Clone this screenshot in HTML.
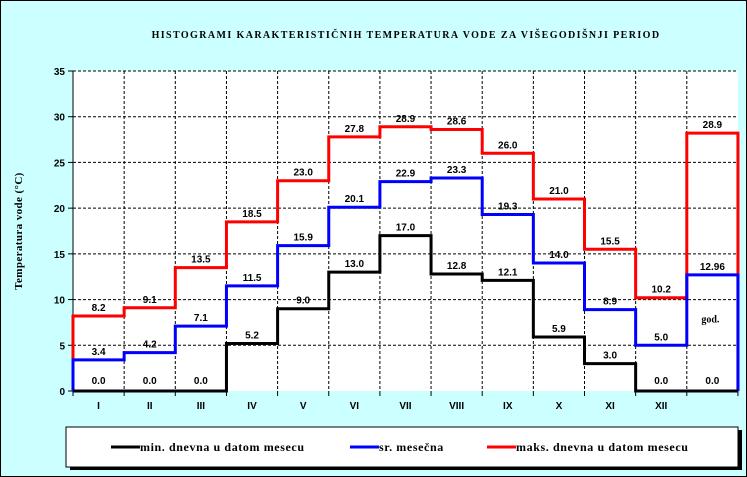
<!DOCTYPE html>
<html><head><meta charset="utf-8"><style>
body{margin:0;background:#fff}
svg{display:block}
.t{font-family:"Liberation Sans",sans-serif;font-weight:bold;font-size:10px;fill:#000}
.s{font-family:"Liberation Serif",serif;font-weight:bold;fill:#000}
</style></head><body>
<svg id="c" width="747" height="477" viewBox="0 0 747 477">
<rect x="0.5" y="0.5" width="746" height="476" fill="#ccffff" stroke="#000"/>
<text class="s" x="406" y="38" font-size="10" text-anchor="middle" letter-spacing="1.4">HISTOGRAMI KARAKTERISTIČNIH TEMPERATURA VODE ZA VIŠEGODIŠNJI PERIOD</text>
<text class="s" font-size="11" text-anchor="middle" letter-spacing="0.4" transform="translate(22,231) rotate(-90)">Temperatura vode (°C)</text>
<rect x="73" y="71" width="665" height="320" fill="#fff"/>
<g id="grid"></g><g id="series"></g><g id="labels"></g>
<g>
<rect x="70" y="430" width="672" height="40" fill="#000"/>
<rect x="66" y="427" width="672" height="40" fill="#fff" stroke="#000"/>
<line x1="111" y1="447" x2="140" y2="447" stroke="#000" stroke-width="3"/>
<text class="s" x="140" y="451" font-size="12" letter-spacing="0.6">min. dnevna u datom mesecu</text>
<line x1="350" y1="447" x2="379" y2="447" stroke="#00f" stroke-width="3"/>
<text class="s" x="379" y="451" font-size="12" letter-spacing="0.6">sr. mesečna</text>
<line x1="487" y1="447" x2="516" y2="447" stroke="#f00" stroke-width="3"/>
<text class="s" x="516" y="451" font-size="12" letter-spacing="0.6">maks. dnevna u datom mesecu</text>
</g>
</svg>
<script>
const categories=["I","II","III","IV","V","VI","VII","VIII","IX","X","XI","XII",""];
const minVals=[0,0,0,5.2,9.0,13.0,17.0,12.8,12.1,5.9,3.0,0,0];
const meanVals=[3.4,4.2,7.1,11.5,15.9,20.1,22.9,23.3,19.3,14.0,8.9,5.0,12.7];
const maxVals=[8.2,9.1,13.5,18.5,23.0,27.8,28.9,28.6,26.0,21.0,15.5,10.2,28.2];
const minLabels=["0.0","0.0","0.0","5.2","9.0","13.0","17.0","12.8","12.1","5.9","3.0","0.0","0.0"];
const meanLabels=["3.4","4.2","7.1","11.5","15.9","20.1","22.9","23.3","19.3","14.0","8.9","5.0","12.96"];
const maxLabels=["8.2","9.1","13.5","18.5","23.0","27.8","28.9","28.6","26.0","21.0","15.5","10.2","28.9"];
const yTicks=[0,5,10,15,20,25,30,35];
const NS="http://www.w3.org/2000/svg";
const X0=73,CW=51.15,Y0=391,YMAX=35,PH=320;
const x=i=>X0+i*CW;
const y=v=>Y0-v/YMAX*PH;
function mk(tag,attrs,parent,txt){const e=document.createElementNS(NS,tag);for(const k in attrs)e.setAttribute(k,attrs[k]);if(txt!==undefined)e.textContent=txt;parent.appendChild(e);return e;}
const svg=document.getElementById('c'),grid=document.getElementById('grid'),ser=document.getElementById('series'),lab=document.getElementById('labels');
yTicks.forEach(t=>{
 if(t>0){const l=mk('line',{x1:X0,x2:X0+13*CW,y1:y(t),y2:y(t),stroke:'#000','stroke-dasharray':'3,2','stroke-width':1},grid);
 
 }
 const tk=mk('line',{x1:X0-5,x2:X0,y1:y(t),y2:y(t),stroke:'#000'},grid);
 
 
 const tl=mk('text',{x:X0-8,y:y(t)+4,'text-anchor':'end',class:'t','font-size':12},grid,String(t));
 
 
});
for(let i=1;i<=13;i++){
 if(i<13){const l=mk('line',{x1:x(i),x2:x(i),y1:y(YMAX),y2:Y0,stroke:'#000','stroke-dasharray':'3,2'},grid);
 
 }
}
for(let i=0;i<=13;i++){const tk=mk('line',{x1:x(i),x2:x(i),y1:Y0,y2:Y0+5,stroke:'#000'},grid);
 
 }
const ax=mk('line',{x1:X0,x2:X0,y1:y(YMAX),y2:Y0,stroke:'#000'},grid);


categories.forEach((c,i)=>{const t=mk('text',{x:x(i)+CW/2,y:Y0+18,'text-anchor':'middle',class:'t','font-size':11},grid,c);
 
 });
function step(vals,color,name){
 let d='M'+x(0)+','+y(0);
 vals.forEach((v,i)=>{d+=' V'+y(v)+' H'+x(i+1);});
 d+=' V'+y(0);
 const p=mk('path',{d:d,fill:'none',stroke:color,'stroke-width':3},ser);
 
 
}
step(maxVals,'#f00','max-series');
step(meanVals,'#00f','mean-series');
step(minVals,'#000','min-series');
function labels(vals,txts,name){
 vals.forEach((v,i)=>{const ty=v===0?Y0-7:y(v)-5;
 const t=mk('text',{x:x(i)+CW/2,y:ty,'text-anchor':'middle',class:'t'},lab,txts[i]);
 
 });
}
labels(minVals,minLabels,'min-value-label');
labels(meanVals,meanLabels,'mean-value-label');
labels(maxVals,maxLabels,'max-value-label');
const g=mk('text',{x:x(12)+CW/2-2,y:y(7.5),'text-anchor':'middle',class:'s','font-size':10},lab,'god.');


</script>
</body></html>
